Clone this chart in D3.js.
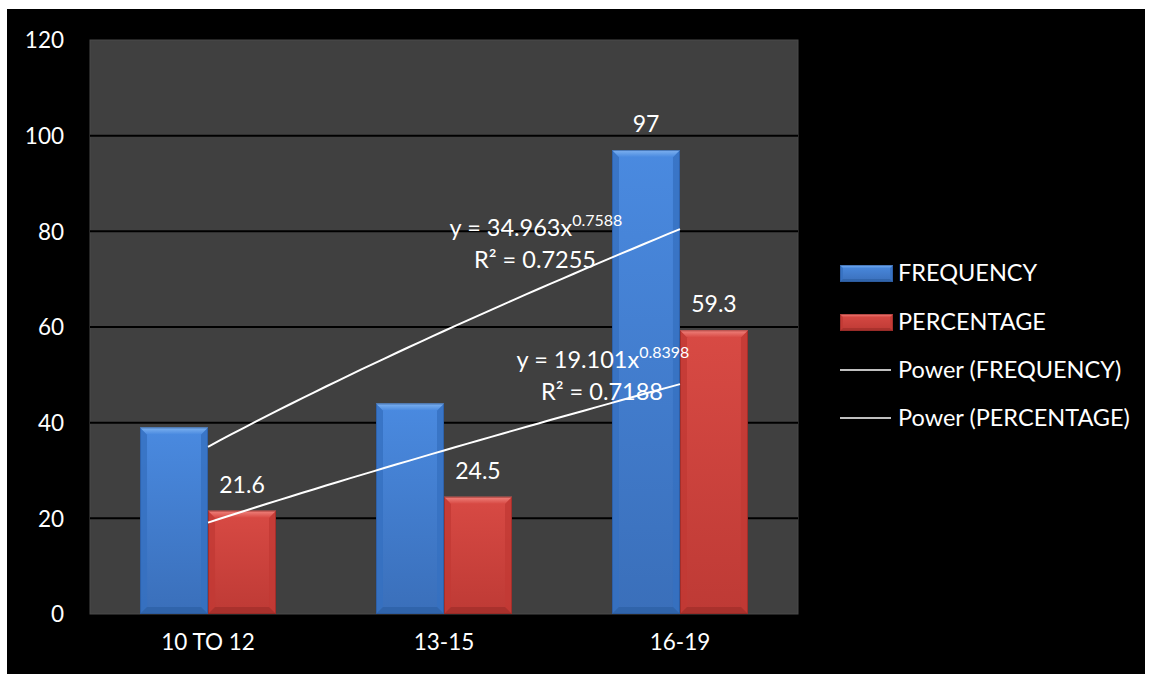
<!DOCTYPE html>
<html>
<head>
<meta charset="utf-8">
<script src="https://cdn.jsdelivr.net/npm/d3@7"></script>
<style>
  html, body { margin: 0; padding: 0; background: #ffffff; }
  svg { display: block; }
  text { font-family: Lato, "Open Sans", sans-serif; fill: #ffffff; }
</style>
</head>
<body>
<svg id="chart" width="1152" height="674"></svg>
<script>
// Age groups and series values
const categories = ["10 TO 12", "13-15", "16-19"];
const frequency = [39, 44, 97];
const percentage = [21.6, 24.5, 59.3];
const seriesNames = ["FREQUENCY", "PERCENTAGE"];
const yTicks = [0, 20, 40, 60, 80, 100, 120];

// Power trendline coefficients (y = a * x^b) and their R² values
const trendFreq = { a: 34.963, b: 0.7588, r2: "0.7255" };
const trendPct = { a: 19.101, b: 0.8398, r2: "0.7188" };

// Which bars carry a value label
const freqLabelShown = [false, false, true];
const pctLabelShown = [true, true, true];

const svg = d3.select("#chart");
const W = 1152, H = 674;

// black chart frame
svg.append("rect").attr("x", 7).attr("y", 9).attr("width", 1138).attr("height", H - 9).attr("fill", "#000");

const plot = { left: 90, right: 798, top: 40, bottom: 614 };

const x = d3.scaleBand().domain(categories)
  .range([plot.left, plot.right])
  .paddingInner(0.4237).paddingOuter(0.2119);
const xs = d3.scaleBand().domain(seriesNames).range([0, x.bandwidth()]);
const y = d3.scaleLinear().domain([0, 120]).range([plot.bottom, plot.top]);

// plot area
svg.append("rect")
  .attr("x", plot.left).attr("y", plot.top)
  .attr("width", plot.right - plot.left).attr("height", plot.bottom - plot.top)
  .attr("fill", "#404040").attr("stroke", "#4a4a4a").attr("stroke-width", 1);

// gridlines
svg.append("g").selectAll("line")
  .data(yTicks.filter(t => t > 0 && t < 120))
  .join("line")
  .attr("x1", plot.left).attr("x2", plot.right)
  .attr("y1", d => y(d)).attr("y2", d => y(d))
  .attr("stroke", "#000").attr("stroke-width", 2);

// y axis labels
const yAxis = d3.axisLeft(y).tickValues(yTicks).tickSize(0).tickPadding(0);
const yg = svg.append("g").attr("transform", `translate(${plot.left - 26},0)`).call(yAxis);
yg.select(".domain").remove();
yg.selectAll("text").attr("font-size", 22.5).attr("fill", "#fff")
  .attr("font-family", "Lato, 'Open Sans', sans-serif").attr("dy", "0.35em");

// x axis labels
const xAxis = d3.axisBottom(x).tickSize(0).tickPadding(0);
const xg = svg.append("g").attr("transform", `translate(0,${plot.bottom + 28})`).call(xAxis);
xg.select(".domain").remove();
xg.selectAll("text").attr("font-size", 22.5).attr("fill", "#fff")
  .attr("font-family", "Lato, 'Open Sans', sans-serif").attr("dy", "0.35em");

// colour sets for the bevelled bars
const palettes = {
  FREQUENCY: { top: "#4a8ae0", bottom: "#3a6fba", bevel: "#7fb3f0", side: "#3670c0", base: "#2c5fa4", edge: "#2a5596" },
  PERCENTAGE: { top: "#d84a44", bottom: "#be3a35", bevel: "#f0847e", side: "#c23a35", base: "#a02e2a", edge: "#8e2825" }
};

const defs = svg.append("defs");
Object.entries(palettes).forEach(([k, p]) => {
  const g = defs.append("linearGradient").attr("id", "grad-" + k).attr("x1", 0).attr("y1", 0).attr("x2", 0).attr("y2", 1);
  g.append("stop").attr("offset", "0%").attr("stop-color", p.top);
  g.append("stop").attr("offset", "100%").attr("stop-color", p.bottom);
  const b = defs.append("linearGradient").attr("id", "bev-" + k).attr("x1", 0).attr("y1", 0).attr("x2", 0).attr("y2", 1);
  b.append("stop").attr("offset", "0%").attr("stop-color", p.bevel);
  b.append("stop").attr("offset", "100%").attr("stop-color", p.top);
});

function bevelBar(g, x0, y0, w, h, key, bv) {
  const p = palettes[key];
  const x1 = x0 + w, y1 = y0 + h;
  g.append("rect").attr("x", x0).attr("y", y0).attr("width", w).attr("height", h)
    .attr("fill", `url(#grad-${key})`);
  // left and right faces
  g.append("path").attr("d", `M${x0},${y0}L${x0 + bv},${y0 + bv}L${x0 + bv},${y1 - bv}L${x0},${y1}Z`)
    .attr("fill", p.side).attr("opacity", 0.8);
  g.append("path").attr("d", `M${x1},${y0}L${x1 - bv},${y0 + bv}L${x1 - bv},${y1 - bv}L${x1},${y1}Z`)
    .attr("fill", p.side).attr("opacity", 0.8);
  // bottom face
  g.append("path").attr("d", `M${x0},${y1}L${x0 + bv},${y1 - bv}L${x1 - bv},${y1 - bv}L${x1},${y1}Z`)
    .attr("fill", p.base).attr("opacity", 0.7);
  // top face (highlight)
  g.append("path").attr("d", `M${x0},${y0}L${x1},${y0}L${x1 - bv},${y0 + bv}L${x0 + bv},${y0 + bv}Z`)
    .attr("fill", `url(#bev-${key})`);
  g.append("rect").attr("x", x0 + 0.5).attr("y", y0 + 0.5).attr("width", w - 1).attr("height", h - 1)
    .attr("fill", "none").attr("stroke", p.edge).attr("stroke-width", 1).attr("opacity", 0.6);
}

const barsG = svg.append("g");
const series = [
  { key: "FREQUENCY", values: frequency, shown: freqLabelShown },
  { key: "PERCENTAGE", values: percentage, shown: pctLabelShown }
];
series.forEach(s => {
  s.values.forEach((v, i) => {
    const bx = x(categories[i]) + xs(s.key);
    bevelBar(barsG, bx, y(v), xs.bandwidth(), y(0) - y(v), s.key, 7);
  });
});

// trendlines y = a * x^b over category positions 1..3
const xt = d3.scaleLinear().domain([1, 3])
  .range([x(categories[0]) + x.bandwidth() / 2, x(categories[2]) + x.bandwidth() / 2]);
const line = d3.line().x(d => xt(d[0])).y(d => y(d[1]));
function trendPoints(t) {
  return d3.range(0, 41).map(i => {
    const xv = 1 + i * 0.05;
    return [xv, t.a * Math.pow(xv, t.b)];
  });
}
[trendFreq, trendPct].forEach(t => {
  svg.append("path").attr("d", line(trendPoints(t)))
    .attr("fill", "none").attr("stroke", "#fff").attr("stroke-width", 2);
});

// value labels
const labelsG = svg.append("g");
series.forEach(s => {
  s.values.forEach((v, i) => {
    if (!s.shown[i]) return;
    labelsG.append("text")
      .attr("x", x(categories[i]) + xs(s.key) + xs.bandwidth() / 2)
      .attr("y", y(v) - 18)
      .attr("text-anchor", "middle").attr("font-size", 23)
      .text(v);
  });
});

// trendline equations
function equation(t, cx, by) {
  const eq = svg.append("text").attr("x", cx).attr("y", by).attr("text-anchor", "middle").attr("font-size", 23.5);
  eq.append("tspan").text(`y = ${t.a}x`);
  eq.append("tspan").attr("font-size", 16).attr("dy", -10).text(t.b);
  svg.append("text").attr("x", cx - 1).attr("y", by + 32).attr("text-anchor", "middle").attr("font-size", 23.5)
    .text(`R² = ${t.r2}`);
}
equation(trendFreq, 536, 236);
equation(trendPct, 603, 368);

// legend
const lg = svg.append("g");
const legendX = 840, legendTextX = 898;
const legendRows = [
  { label: "FREQUENCY", type: "bar", key: "FREQUENCY", cy: 273 },
  { label: "PERCENTAGE", type: "bar", key: "PERCENTAGE", cy: 322 },
  { label: "Power (FREQUENCY)", type: "line", cy: 370 },
  { label: "Power (PERCENTAGE)", type: "line", cy: 418 }
];
legendRows.forEach(r => {
  if (r.type === "bar") {
    bevelBar(lg, legendX, r.cy - 8, 53, 17, r.key, 3);
  } else {
    lg.append("line").attr("x1", legendX).attr("x2", legendX + 51)
      .attr("y1", r.cy).attr("y2", r.cy).attr("stroke", "#fff").attr("stroke-width", 1.5);
  }
  lg.append("text").attr("x", legendTextX).attr("y", r.cy).attr("dy", "0.35em")
    .attr("font-size", 23.5).text(r.label);
});
</script>
</body>
</html>
